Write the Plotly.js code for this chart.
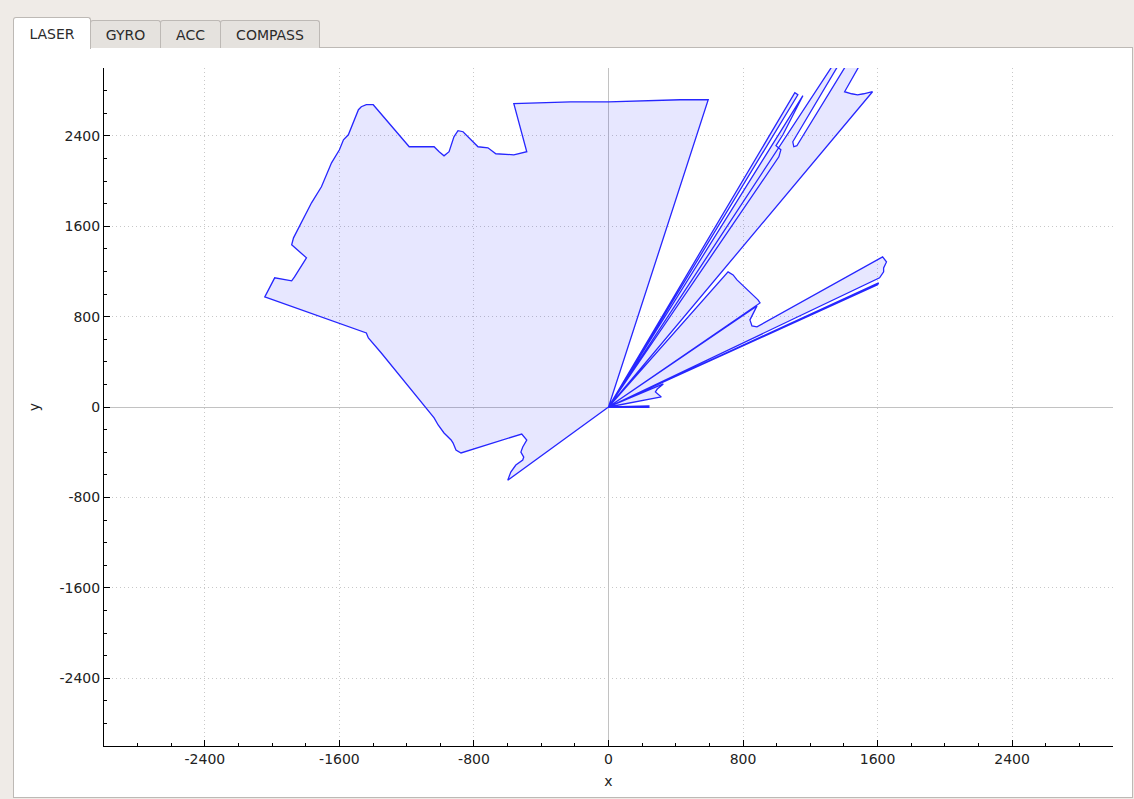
<!DOCTYPE html>
<html>
<head>
<meta charset="utf-8">
<script src="https://cdn.plot.ly/plotly-3.0.1.min.js"></script>
<style>
  html, body { margin:0; padding:0; width:1134px; height:799px; overflow:hidden; background:#efebe7; font-family:"DejaVu Sans", sans-serif; }
  #panel { position:absolute; left:13px; top:47px; width:1118px; height:749px; background:#ffffff; border:1px solid #bdb9b5; }
  .tab { position:absolute; box-sizing:border-box; border:1px solid #bdb9b5; border-bottom:none; border-radius:3px 3px 0 0; background:#e5e2de; color:#2b2b2b; font-size:14px; text-align:center; }
  .tab.active { background:#ffffff; z-index:2; }
  #chart { position:absolute; left:0; top:0; width:1134px; height:799px; }
</style>
</head>
<body>
<div id="panel"></div>
<div class="tab active" style="left:13px; top:17px; width:78px; height:32px; line-height:32px;">LASER</div>
<div class="tab" style="left:90px; top:20px; width:71px; height:28px; line-height:28px;">GYRO</div>
<div class="tab" style="left:160px; top:20px; width:61px; height:28px; line-height:28px;">ACC</div>
<div class="tab" style="left:220px; top:20px; width:100px; height:28px; line-height:28px;">COMPASS</div>
<div id="chart"></div>
<script>
// Laser scan outline (mm), in angular order
const nearX = [0, 240, 240, 0, 314, 279, 290, 326, 0];
const nearY = [0, -3, 10, 0, 89, 133, 159, 204, 0];

const rightSpikeX = [1600, 1606, 0, 1612, 1636, 1636, 1653, 1630, 883, 853, 841, 883, 0];
const rightSpikeY = [1081, 1098, 0, 1143, 1196, 1231, 1284, 1329, 709, 717, 771, 895, 0];

const wedgeX = [901, 889, 824, 764, 741, 711, 0];
const wedgeY = [921, 948, 1036, 1125, 1169, 1196, 0];

const fanX = [1570, 1517, 1481, 1446, 1404, 1529, 1452, 1120, 1102, 1096, 1404, 1375, 0];
const fanY = [2790, 2772, 2763, 2772, 2790, 3118, 3118, 2312, 2303, 2347, 3118, 3118, 0];

const sliverX = [1013, 1025, 996, 1037, 1156, 0, 1126, 1108, 0];
const sliverY = [2214, 2276, 2312, 2409, 2755, 0, 2763, 2781, 0];

const roomX = [593, 427, 249, 0, -225, -403, -563, -486, -563, -670, -717, -776, -836, -865, -895, -919, -948, -978, -1007, -1037, -1185,
  -1399, -1440, -1470, -1487, -1529, -1547, -1576, -1600, -1647, -1707, -1766, -1825, -1873, -1884, -1796, -1867, -1884, -1985, -2044,
  -1440, -1428, -1351, -1114, -1073, -1037, -1013, -978, -936, -924, -907, -877, -516, -486, -510, -521, -504, -510, -551, -581, -599, 0];
const roomY = [2719, 2719, 2710, 2701, 2701, 2693, 2684, 2259, 2232, 2241, 2294, 2303, 2391, 2436, 2445, 2391, 2259, 2223, 2259, 2303, 2303,
  2675, 2675, 2657, 2631, 2480, 2409, 2365, 2276, 2161, 1949, 1807, 1630, 1497, 1435, 1320, 1151, 1116, 1143, 974,
  655, 611, 478, 44, -27, -97, -159, -230, -292, -319, -381, -407, -239, -292, -354, -399, -443, -469, -514, -576, -647, 0];

const tickVals = [-2400, -1600, -800, 0, 800, 1600, 2400];
const tickText = ['-2400', '-1600', '-800', '0', '800', '1600', '2400'];

const scanX = [0].concat(nearX, rightSpikeX, wedgeX, fanX, sliverX, roomX);
const scanY = [0].concat(nearY, rightSpikeY, wedgeY, fanY, sliverY, roomY);

const axisCommon = {
  range: [-3000, 3000],
  tickmode: 'array', tickvals: tickVals, ticktext: tickText,
  ticks: 'inside', ticklen: 6, tickwidth: 1, tickcolor: '#000',
  minor: { tickmode: 'linear', tick0: 0, dtick: 200, ticks: 'inside', ticklen: 3, tickcolor: '#000', showgrid: false },
  showline: true, linecolor: '#000', linewidth: 1, mirror: false,
  showgrid: true, gridcolor: '#c8c8c8', griddash: '1px,3px', gridwidth: 1,
  zeroline: true, zerolinecolor: '#c2c2c2', zerolinewidth: 1,
  tickfont: { family: 'DejaVu Sans', size: 14, color: '#222' },
  fixedrange: true
};

const data = [{
  type: 'scatter', mode: 'lines',
  x: scanX, y: scanY,
  fill: 'toself', fillcolor: 'rgba(0,0,255,0.095)',
  line: { color: '#2626ff', width: 1.3 },
  hoverinfo: 'skip'
}];

const layout = {
  width: 1134, height: 799,
  margin: { l: 104, r: 21, t: 68, b: 53 },
  paper_bgcolor: 'rgba(0,0,0,0)', plot_bgcolor: '#ffffff',
  showlegend: false,
  font: { family: 'DejaVu Sans', size: 14, color: '#222' },
  xaxis: Object.assign({}, axisCommon, { title: { text: 'x', standoff: 10, font: { size: 14, color: '#222' } } }),
  yaxis: Object.assign({}, axisCommon, { title: { text: 'y', standoff: 16, font: { size: 14, color: '#222' } } })
};

Plotly.newPlot('chart', data, layout, { staticPlot: true, displayModeBar: false });
</script>
</body>
</html>
